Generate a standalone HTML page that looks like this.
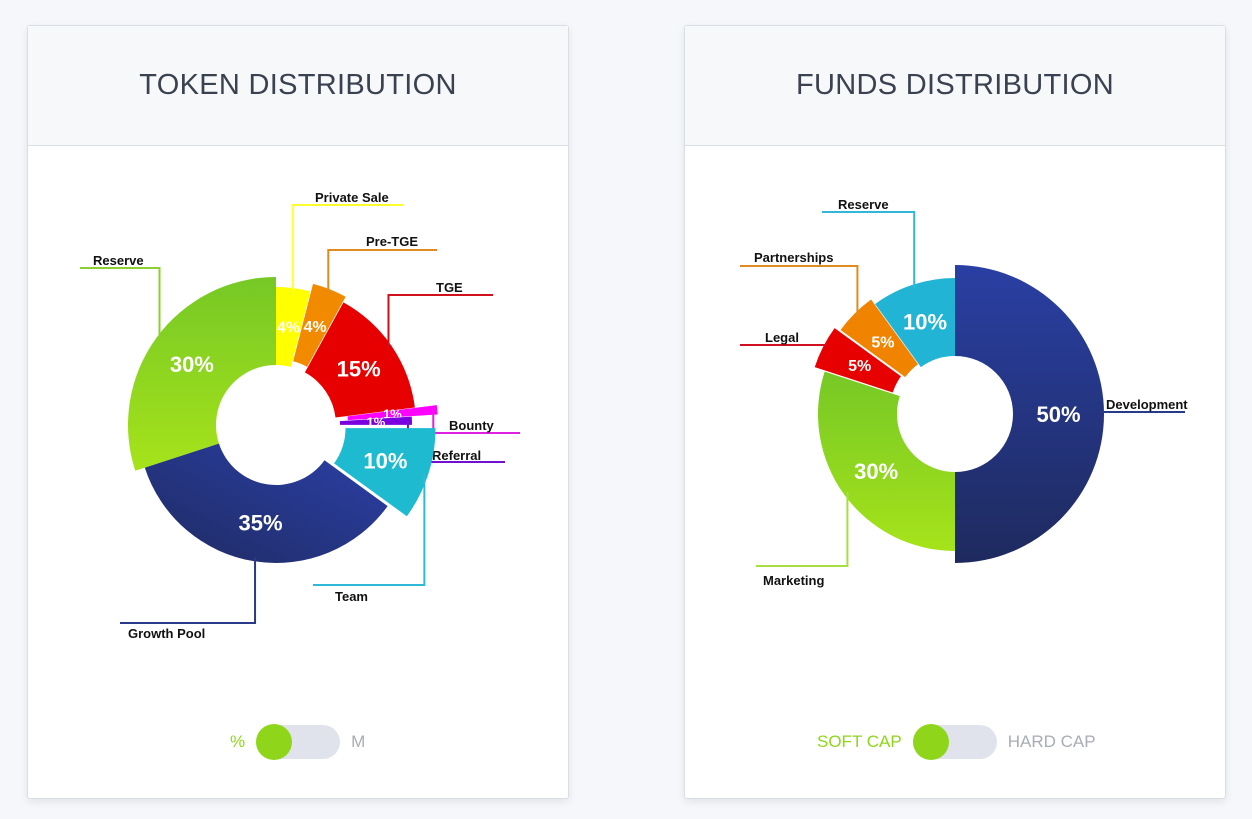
<!DOCTYPE html>
<html><head><meta charset="utf-8"><style>
html,body{margin:0;padding:0;width:1252px;height:819px;background:#f5f7fa;overflow:hidden;font-family:"Liberation Sans",sans-serif}
.card{position:absolute;top:25px;width:540px;height:772px;background:#fff;border:1px solid #d9dee4;border-radius:3px;box-shadow:0 3px 8px rgba(0,0,0,0.08)}
.hdr{height:119px;background:#f7f8fa;border-bottom:1px solid #d9dee4;display:flex;align-items:center;justify-content:center;font-size:29px;color:#3a4150;letter-spacing:0.3px}
.tg{position:absolute;top:699px;height:34px;display:flex;align-items:center;font-size:17px}
.track{position:relative;width:84px;height:34px;border-radius:17px;background:#e1e3ec;margin:0 11px}
.knob{position:absolute;left:0;top:-1px;width:36px;height:36px;border-radius:50%;background:#8fd61a}
svg{position:absolute;left:0;top:0}
</style></head><body>
<div class="card" style="left:27px">
 <div class="hdr">TOKEN DISTRIBUTION</div>
 <div class="tg" style="left:202px">
  <span style="color:#8fd61a">%</span>
  <div class="track"><div class="knob"></div></div>
  <span style="color:#a8acb4">M</span>
 </div>
</div>
<div class="card" style="left:684px">
 <div class="hdr">FUNDS DISTRIBUTION</div>
 <div class="tg" style="left:132px">
  <span style="color:#8fd61a">SOFT CAP</span>
  <div class="track"><div class="knob"></div></div>
  <span style="color:#a8acb4">HARD CAP</span>
 </div>
</div>
<svg id="chart" width="1252" height="819">
<defs>
<linearGradient id="gNavy" x1="0" y1="0" x2="0" y2="1"><stop offset="0" stop-color="#2a3fa3"/><stop offset="1" stop-color="#1e2a5e"/></linearGradient>
<linearGradient id="gNavy2" x1="0" y1="1" x2="1" y2="0"><stop offset="0" stop-color="#1f2b62"/><stop offset="1" stop-color="#2b40a8"/></linearGradient>
<linearGradient id="gGreen" x1="0" y1="0" x2="0" y2="1"><stop offset="0" stop-color="#76c826"/><stop offset="1" stop-color="#a6e31a"/></linearGradient>
</defs>
</svg>
<script>
const tokenLabels=["Private Sale","Pre-TGE","TGE","Bounty","Referral","Team","Growth Pool","Reserve"];
const tokenValues=[4,4,15,1,1,10,35,30];
const fundsLabels=["Development","Marketing","Legal","Partnerships","Reserve"];
const fundsValues=[50,30,5,5,10];

const tokenStyle={cx:276,cy:425,inner:60,start:0,
 colors:["#ffff00","#f28a00","#e60000","#ff00ff","#7a00e0","#1dbad0","url(#gNavy2)","url(#gGreen)"],
 lineColors:["#ffff30","#e08a20","#d0101a","#e020e0","#7010d0","#30b8d8","#2a3a8a","#8ccf30"],
 outer:[138,140,140,150,132,150,138,148],explode:[0,6,0,12,4,10,0,0],
 leaders:[[[301,205],[403,205]],[[348,250],[437,250]],[[404,295],[493,295]],[[430,433],[520,433]],[[415,462],[505,462]],[[400,585],[313,585]],[[228,623],[120,623]],[[169,268],[80,268]]],
 labelPos:[[315,202,"start"],[366,246,"start"],[436,292,"start"],[449,430,"start"],[432,460,"start"],[335,601,"start"],[128,638,"start"],[93,265,"start"]]};
const fundsStyle={cx:955,cy:414,inner:58,start:0,
 colors:["url(#gNavy)","url(#gGreen)","#e60000","#f08400","#22b4d4"],
 lineColors:["#2a3a8a","#a6e040","#d01020","#e08a20","#30b8d8"],
 outer:[149,137,140,138,136],explode:[0,0,8,4,0],
 leaders:[[[1103,412],[1185,412]],[[846,566],[756,566]],[[740,345],[740,345]],[[848,266],[740,266]],[[911,212],[822,212]]],
 labelPos:[[1106,409,"start"],[763,585,"start"],[765,342,"start"],[754,262,"start"],[838,209,"start"]]};

const svg=document.getElementById('chart');
const NS='http://www.w3.org/2000/svg';
function pt(cx,cy,r,a){return [cx+r*Math.sin(a),cy-r*Math.cos(a)];}
function drawDonut(labels,values,st,prefix){
 const total=values.reduce((s,v)=>s+v,0);
 let acc=0;
 values.forEach((v,i)=>{
  const a0=st.start+acc/total*2*Math.PI;acc+=v;
  const a1=st.start+acc/total*2*Math.PI;const am=(a0+a1)/2;
  const ox=st.explode[i]*Math.sin(am),oy=-st.explode[i]*Math.cos(am);
  const cx=st.cx+ox,cy=st.cy+oy,R=st.outer[i],r=st.inner;
  const large=(a1-a0)>Math.PI?1:0;
  const p1=pt(cx,cy,R,a0),p2=pt(cx,cy,R,a1),p3=pt(cx,cy,r,a1),p4=pt(cx,cy,r,a0);
  const path=document.createElementNS(NS,'path');
  path.setAttribute('d',`M${p1[0]},${p1[1]}A${R},${R} 0 ${large} 1 ${p2[0]},${p2[1]}L${p3[0]},${p3[1]}A${r},${r} 0 ${large} 0 ${p4[0]},${p4[1]}Z`);
  path.setAttribute('fill',st.colors[i]);
  
  
  svg.appendChild(path);
  // leader line from slice edge
  const s=pt(cx,cy,R-4,am),L=st.leaders[i];
  let pts=[s];
  if(Math.abs(L[0][1]-s[1])>3){pts.push([s[0],L[0][1]]);} else {pts=[[s[0],L[0][1]]];}
  if(L[1][0]!==L[0][0])pts.push(L[1]);else pts.push([L[0][0],L[0][1]]);
  if(i===2&&prefix==='funds'){pts=[[s[0],345],[740,345]];}
  const pl=document.createElementNS(NS,'polyline');
  pl.setAttribute('points',pts.map(p=>p.join(',')).join(' '));
  pl.setAttribute('fill','none');pl.setAttribute('stroke',st.lineColors[i]);pl.setAttribute('stroke-width','2');
  
  
  svg.appendChild(pl);
  const lp=st.labelPos[i];
  const t=document.createElementNS(NS,'text');
  t.setAttribute('x',lp[0]);t.setAttribute('y',lp[1]);t.setAttribute('text-anchor',lp[2]);
  t.setAttribute('font-size','13');t.setAttribute('font-weight','bold');t.setAttribute('fill','#111');
  t.textContent=labels[i];
  
  
  svg.appendChild(t);
  // percent value
  const pr=(R+r)/2;const pp=pt(cx,cy,pr,am);
  const fs=v>=10?22:(v>=3?16:13);
  const pv=document.createElementNS(NS,'text');
  pv.setAttribute('x',pp[0]);pv.setAttribute('y',pp[1]+fs*0.36);pv.setAttribute('text-anchor','middle');
  pv.setAttribute('font-size',fs);pv.setAttribute('font-weight','bold');pv.setAttribute('fill','#fff');
  pv.textContent=v+'%';
  
  
  svg.appendChild(pv);
 });
}
drawDonut(tokenLabels,tokenValues,tokenStyle,'token');
drawDonut(fundsLabels,fundsValues,fundsStyle,'funds');
</script>
</body></html>
